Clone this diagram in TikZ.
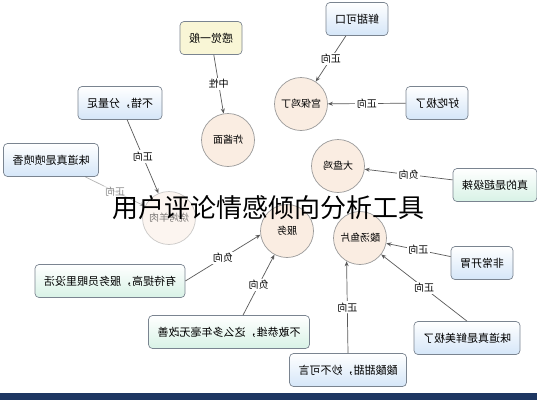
\documentclass[tikz,border=0pt]{standalone}
\usepackage{fontspec}
\setmainfont{Noto Sans CJK SC}
\usetikzlibrary{arrows.meta}

\definecolor{boxline}{HTML}{7A8490}
\definecolor{goodfill}{HTML}{D5E6F8}
\definecolor{badfill}{HTML}{D8F2E6}
\definecolor{midfill}{HTML}{F9F6D6}
\definecolor{dishfill}{HTML}{FAEDE2}
\definecolor{dishline}{HTML}{9A9A9A}
\definecolor{linkgray}{HTML}{5A5A5A}
\definecolor{barblue}{HTML}{1E3762}

% the reference shows every comment mirrored
\newcommand{\mir}[1]{\reflectbox{#1}}

\begin{document}
\begin{tikzpicture}[x=1pt,y=-1pt,font=\fontsize{11}{13}\selectfont,
    cmt/.style={draw=boxline,line width=0.7pt,rounded corners=4pt,minimum height=33pt,inner xsep=9pt},
    goodbox/.style={cmt,top color=white,bottom color=goodfill},
    badbox/.style={cmt,top color=white,bottom color=badfill},
    midbox/.style={cmt,fill=midfill},
    dish/.style={draw=dishline,line width=0.7pt,circle,fill=dishfill,minimum size=53pt,inner sep=0pt,font=\fontsize{10}{12}\selectfont},
    lbl/.style={fill=white,inner sep=1.5pt,font=\fontsize{10}{12}\selectfont},
    link/.style={draw=linkgray,line width=0.7pt,-{Stealth[length=5pt,width=4pt]}}]
    \useasboundingbox[fill=white] (0,0) rectangle (537,400);

    % dishes
    \node[dish] (zhajiang) at (228,140) {\mir{炸酱面}};
    \node[dish] (gongbao) at (301,104) {\mir{宫保鸡丁}};
    \node[dish,opacity=0.5] (yangrou) at (169,218) {\mir{烧烤羊肉}};
    \node[dish] (dapan) at (338,166) {\mir{大盘鸡}};
    \node[dish] (suantang) at (360,238) {\mir{酸汤鱼片}};
    \node[dish] (fuwu) at (287,231) {\mir{服务}};

    % comments
    \node[midbox] (ganjue) at (211,38) {\mir{感觉一般}};
    \node[goodbox] (xiantian) at (357,19) {\mir{鲜甜可口}};
    \node[goodbox] (haochi) at (437,103) {\mir{好吃极了}};
    \node[goodbox] (bucuo) at (120,103) {\mir{不错，分量足}};
    \node[goodbox] (penxiang) at (51,160) {\mir{味道真是喷喷香}};
    \node[badbox] (chaola) at (495,185) {\mir{真的是超级辣}};
    \node[goodbox] (kaiwei) at (482,263) {\mir{非常开胃}};
    \node[goodbox] (xianmei) at (467,338) {\mir{味道真是鲜美极了}};
    \node[goodbox] (suansuan) at (348,370) {\mir{酸酸甜甜，妙不可言}};
    \node[badbox] (youdai) at (110,281) {\mir{有待提高，服务员眼里没活}};
    \node[badbox] (bugan) at (229,332) {\mir{不敢恭维，这么多年毫无改善}};

    % links
    \draw[link] (ganjue) -- node[lbl] {\mir{中性}} (zhajiang);
    \draw[link] (xiantian) -- node[lbl] {\mir{正向}} (gongbao);
    \draw[link] (haochi) -- node[lbl] {\mir{正向}} (gongbao);
    \draw[link] (bucuo) -- node[lbl] {\mir{正向}} (yangrou);
    \draw[link,opacity=0.45] (penxiang) -- node[lbl,text opacity=0.45] {\mir{正向}} (yangrou);
    \draw[link] (chaola) -- node[lbl] {\mir{负向}} (dapan);
    \draw[link] (kaiwei) -- node[lbl] {\mir{正向}} (suantang);
    \draw[link] (xianmei.north) -- node[lbl] {\mir{正向}} (suantang);
    \draw[link] (suansuan.north) -- node[lbl] {\mir{正向}} (suantang.-120);
    \draw[link] (youdai.east) -- node[lbl] {\mir{负向}} (fuwu.188);
    \draw[link] ([xshift=14pt]bugan.north) -- node[lbl] {\mir{负向}} (fuwu.-118);

    % title over the picture
    \node[font=\fontsize{26}{28}\selectfont] (title) at (268,208) {用户评论情感倾向分析工具};

    \fill[barblue] (0,393) rectangle (537,400);
\end{tikzpicture}
\end{document}
